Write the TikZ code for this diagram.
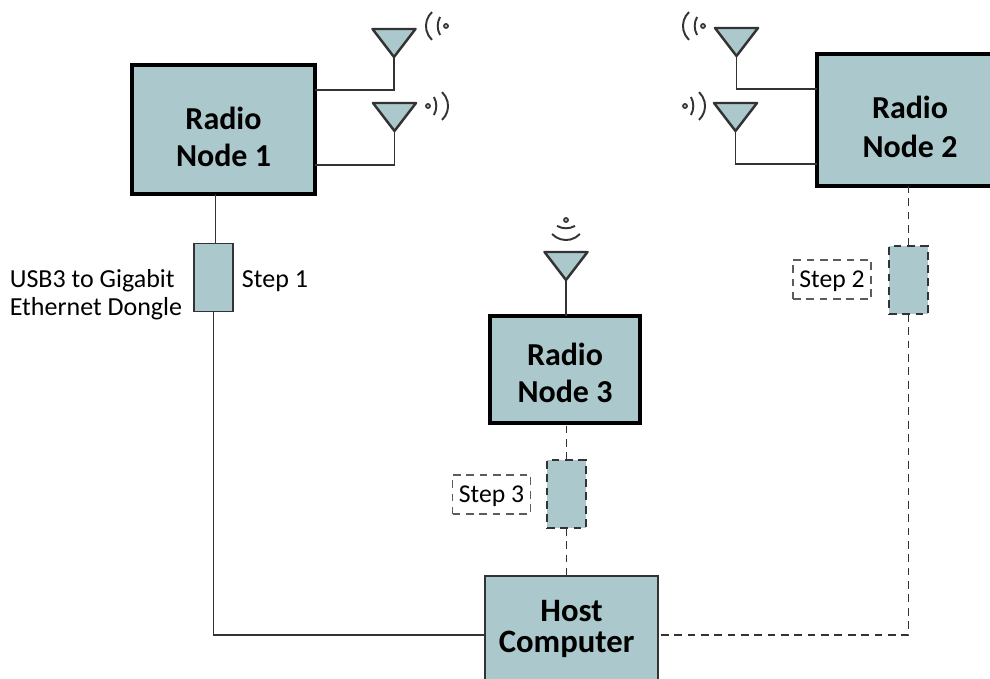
\documentclass[tikz,border=0pt]{standalone}
\usepackage{fontspec}
\setmainfont{Carlito}
\usepackage{tikz}
\definecolor{boxfill}{HTML}{ABC8CC}
\definecolor{wirecol}{HTML}{333333}
\newcommand{\toppad}[1]{\rule{0pt}{#1}}
\newcommand{\lowpad}[1]{\rule[-#1]{0pt}{1pt}}
\tikzset{
  radiobox/.style={draw=black, fill=boxfill, line width=0.9pt, align=center, outer sep=0pt, font=\fontsize{9.1}{10.4}\selectfont\bfseries},
  hostbox/.style={draw=wirecol, fill=boxfill, line width=0.5pt, align=center, outer sep=0pt, minimum width=1.73cm, minimum height=1.18cm, font=\fontsize{9.3}{8.9}\selectfont\bfseries},
  donglebox/.style={draw=wirecol, fill=boxfill, line width=0.5pt, outer sep=0pt, minimum width=0.39cm, minimum height=0.68cm, inner sep=0pt},
  dashlook/.style={dash pattern=on 2.2pt off 1.6pt},
  stepbox/.style={draw=wirecol!80, line width=0.45pt, dashlook, outer sep=0pt, minimum width=0.78cm, minimum height=0.39cm, inner sep=0pt, text depth=0pt, font=\fontsize{7.3}{8}\selectfont},
  plaintext/.style={inner sep=0pt, font=\fontsize{7.4}{8}\selectfont},
  wire/.style={draw=wirecol, line width=0.5pt},
  antenna/.style={draw=wirecol, fill=boxfill, line width=0.7pt, line join=round},
  waves/.pic={
    \draw[wirecol, fill=wirecol!40, line width=0.4pt] (0,0) circle (0.022);
    \draw[wirecol, line width=0.55pt] (0.059,-0.09) arc (-30:30:0.18);
    \draw[wirecol, line width=0.55pt] (0.14,-0.139) arc (-47:47:0.19);
  }
}
\begin{document}
\begin{tikzpicture}

    \useasboundingbox (0,0) rectangle (9.9,-6.79);
    \clip (0,0) rectangle (9.9,-6.79);

    \node[radiobox, minimum width=1.83cm, minimum height=1.29cm] (radioA) at (2.235,-1.295) {\toppad{10.5pt}Radio\\Node 1};
    \node[radiobox, minimum width=1.86cm, minimum height=1.32cm] (radioB) at (9.10,-1.20) {\toppad{10.2pt}Radio\\[0.85pt]Node 2};
    \node[radiobox, minimum width=1.50cm, minimum height=1.07cm] (radioC) at (5.65,-3.695) {\toppad{8.4pt}Radio\\Node 3};
    \node[hostbox] (host) at (5.715,-6.35) {Host\\Computer\hspace*{2.8pt}\lowpad{4.8pt}};

    \node[donglebox] (dongleA) at (2.135,-2.775) {};
    \node[donglebox, dashlook] (dongleB) at (9.085,-2.80) {};
    \node[donglebox, dashlook] (dongleC) at (5.665,-4.94) {};

    \node[plaintext] (stepA) at (2.75,-2.81) {Step 1};
    \node[stepbox] (stepB) at (8.32,-2.795) {Step 2};
    \node[stepbox] (stepC) at (4.915,-4.945) {Step 3};
    \node[plaintext, align=left] (dongletext) at (0.96,-2.95) {USB3 to Gigabit\\Ethernet Dongle};

    \coordinate (antA) at (3.94,-0.57);
    \coordinate (antB) at (3.945,-1.31);
    \coordinate (antC) at (7.365,-0.56);
    \coordinate (antD) at (7.355,-1.31);
    \coordinate (antE) at (5.66,-2.80);

    % solid links
    \draw[wire] ([xshift=0.02cm]dongleA.north) -- ([xshift=0.02cm]dongleA.north |- radioA.south);
    \draw[wire] (dongleA.south) |- (host.west);
    \draw[wire] (antA) |- (radioA.east |- 0,-0.90);
    \draw[wire] (antB) |- (radioA.east |- 0,-1.65);
    \draw[wire] (antC) |- (radioB.west |- 0,-0.89);
    \draw[wire] (antD) |- (radioB.west |- 0,-1.64);
    \draw[wire] (antE) -- (antE |- radioC.north);

    % dashed links
    \draw[wire, dashlook] (dongleB.north) -- (dongleB.north |- radioB.south);
    \draw[wire, dashlook] (dongleB.south) |- (host.east);
    \draw[wire, dashlook] (dongleC.north) -- (dongleC.north |- radioC.south);
    \draw[wire, dashlook] (dongleC.south) -- (dongleC.south |- host.north);

    \foreach \ant in {antA,antB,antC,antD,antE}
      \draw[antenna] (\ant) -- ++(-0.215,0.28) -- ++(0.43,0) -- cycle;

    \pic[rotate=180] at (4.46,-0.26) {waves};
    \pic at (4.28,-1.06) {waves};
    \pic[rotate=180] at (7.03,-0.26) {waves};
    \pic at (6.85,-1.06) {waves};
    \pic[rotate=-90] at (5.66,-2.20) {waves};

\end{tikzpicture}
\end{document}
